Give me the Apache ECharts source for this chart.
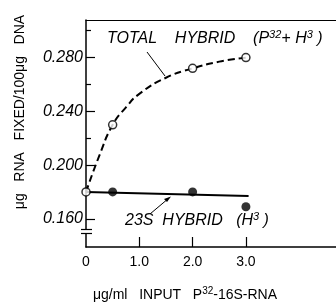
<!DOCTYPE html>
<html>
<head>
<meta charset="utf-8">
<script src="https://cdn.jsdelivr.net/npm/echarts@6/dist/echarts.min.js"></script>
<style>
  html, body { margin: 0; padding: 0; background: #fff; }
  #chart { width: 336px; height: 303px; }
</style>
</head>
<body>
<div id="chart"></div>
<script>
// values
const totalPoints = [[0, 0.180], [0.5, 0.230], [2.0, 0.272], [3.0, 0.280]];
// dashed curve as drawn in the figure
const totalCurve = [[0, 0.180], [0.25, 0.207], [0.5, 0.230], [0.75, 0.243], [1.0, 0.253], [1.5, 0.265], [2.0, 0.272], [2.5, 0.277], [3.0, 0.280]];
const hybrid23S = [[0.5, 0.180], [2.0, 0.180], [3.0, 0.169]];
const fit23S = [[0, 0.180], [3.05, 0.177]];
const yLabelTicks = [0.16, 0.20, 0.24, 0.28];
const yMinorTicks = [0.18, 0.22, 0.26, 0.30];
const xLabelTicks = [0, 1, 2, 3];
const xTicks = [1, 2, 3];

const chart = echarts.init(document.getElementById('chart'));
const FONT = 'Liberation Sans';
const supStyle = { font: 'italic 11px "Liberation Sans"', verticalAlign: 'top', padding: [0, 0, 8, 0], fill: '#000' };

const option = {
  animation: false,
  grid: { left: 86, right: 0, top: 20, bottom: 56 },
  xAxis: [
    {
      type: 'value',
      min: 0,
      max: 4.69,
      splitLine: { show: false },
      axisLine: { lineStyle: { color: '#000', width: 1.5 } },
      axisTick: { inside: true, length: 10, customValues: xTicks, lineStyle: { color: '#000', width: 1.2 } },
      axisLabel: {
        customValues: xLabelTicks,
        color: '#000',
        fontFamily: FONT,
        fontSize: 14,
        margin: 8,
        formatter: (v) => (v === 0 ? '0' : v.toFixed(1)),
      },
    },
    {
      // top border line
      type: 'value',
      position: 'top',
      min: 0,
      max: 4.69,
      splitLine: { show: false },
      axisLine: { show: true, lineStyle: { color: '#000', width: 1.2 } },
      axisTick: { show: false },
      axisLabel: { show: false },
    },
  ],
  yAxis: [
    {
      type: 'value',
      min: 0.139,
      max: 0.308,
      splitLine: { show: false },
      axisLine: { lineStyle: { color: '#000', width: 1.5 } },
      axisTick: { inside: true, length: 9, customValues: yLabelTicks, lineStyle: { color: '#000', width: 1.2 } },
      axisLabel: {
        customValues: yLabelTicks,
        color: '#000',
        fontFamily: FONT,
        fontStyle: 'italic',
        fontSize: 16,
        margin: 3,
        formatter: (v) => v.toFixed(3),
      },
    },
    {
      // short unlabelled ticks
      type: 'value',
      min: 0.139,
      max: 0.308,
      position: 'left',
      splitLine: { show: false },
      axisLine: { show: false },
      axisTick: { show: true, inside: true, length: 5, customValues: yMinorTicks, lineStyle: { color: '#000', width: 1.2 } },
      axisLabel: { show: false },
    },
  ],
  graphic: [
    // axis break
    { type: 'rect', shape: { x: 83, y: 230, width: 6, height: 3 }, style: { fill: '#fff' }, z: 100 },
    { type: 'line', shape: { x1: 81, y1: 229.5, x2: 92, y2: 229.5 }, style: { stroke: '#000', lineWidth: 1.2 }, z: 101 },
    { type: 'line', shape: { x1: 81, y1: 233.5, x2: 92, y2: 233.5 }, style: { stroke: '#000', lineWidth: 1.2 }, z: 101 },
    // axis titles
    {
      type: 'text',
      x: 20,
      y: 112,
      rotation: Math.PI / 2,
      style: {
        text: 'μg   RNA   FIXED/100μg   DNA',
        font: '14px "Liberation Sans"',
        fill: '#000',
        align: 'center',
        verticalAlign: 'middle',
      },
    },
    {
      type: 'text',
      x: 185,
      y: 295,
      style: {
        text: 'μg/ml   INPUT   P{s|32}-16S-RNA',
        font: '14px "Liberation Sans"',
        fill: '#000',
        align: 'center',
        verticalAlign: 'middle',
        rich: { s: { font: '10px "Liberation Sans"', verticalAlign: 'top', padding: [0, 0, 7, 0], fill: '#000' } },
      },
    },
    // series labels
    {
      type: 'text',
      left: 107,
      top: 29,
      style: {
        text: 'TOTAL    HYBRID    (P{s|32}+ H{s|3} )',
        font: 'italic 16px "Liberation Sans"',
        fill: '#000',
        rich: { s: supStyle },
      },
    },
    { type: 'line', shape: { x1: 147, y1: 52, x2: 165, y2: 76 }, style: { stroke: '#000', lineWidth: 1 } },
    {
      type: 'text',
      left: 125,
      top: 211,
      style: {
        text: '23S  HYBRID   (H{s|3} )',
        font: 'italic 16px "Liberation Sans"',
        fill: '#000',
        rich: { s: supStyle },
      },
    },
    { type: 'line', shape: { x1: 150, y1: 214, x2: 169, y2: 198 }, style: { stroke: '#000', lineWidth: 1 } },
    { type: 'polygon', shape: { points: [[171, 196.5], [164, 199], [167, 202]] }, style: { fill: '#000' } },
  ],
  series: [
    {
      type: 'line',
      data: fit23S,
      symbol: 'none',
      lineStyle: { color: '#000', width: 2 },
      z: 2,
    },
    {
      type: 'line',
      data: totalCurve,
      smooth: true,
      symbol: 'none',
      lineStyle: { color: '#000', width: 2, type: [7, 4] },
      z: 3,
    },
    {
      type: 'scatter',
      data: totalPoints,
      symbol: 'circle',
      symbolSize: 8,
      itemStyle: { color: '#fff', borderColor: '#000', borderWidth: 1.5 },
      z: 5,
    },
    {
      type: 'scatter',
      data: hybrid23S,
      symbol: 'circle',
      symbolSize: 9,
      itemStyle: { color: '#000' },
      z: 4,
    },
  ],
};

chart.setOption(option);
</script>
</body>
</html>
